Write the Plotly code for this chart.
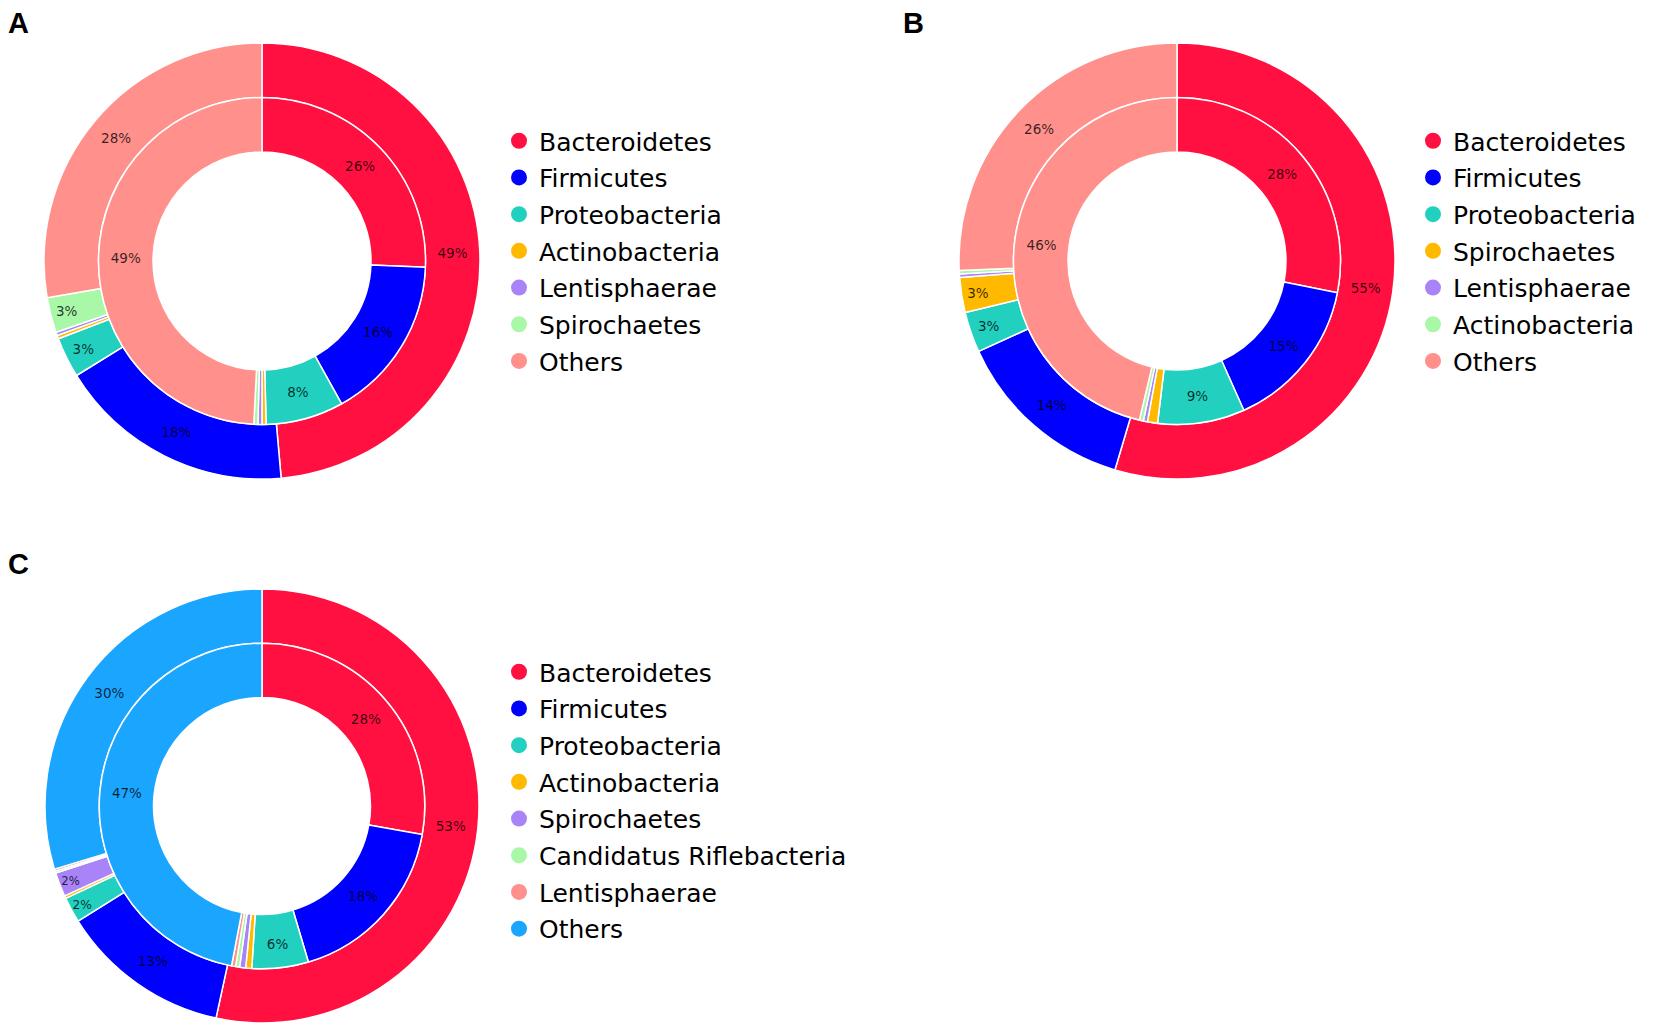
import plotly.graph_objects as go

W, H = 1654, 1036
OFF = 8  # default page body margin
FW, FH = W - 2 * OFF, H - 2 * OFF

PALETTE = ["#FF1040", "#0000FF", "#22D0C0", "#FFBA00", "#A884F8", "#A8F8A8", "#FF908C", "#1AA6FF"]

labels_A = ["Bacteroidetes", "Firmicutes", "Proteobacteria", "Actinobacteria",
            "Lentisphaerae", "Spirochaetes", "Others"]
outer_A = [48.6, 17.6, 3.0, 0.25, 0.25, 2.6, 27.7]
inner_A = [25.6, 16.3, 7.7, 0.4, 0.4, 0.4, 49.2]

labels_B = ["Bacteroidetes", "Firmicutes", "Proteobacteria", "Spirochaetes",
            "Lentisphaerae", "Actinobacteria", "Others"]
outer_B = [54.6, 13.6, 3.0, 2.6, 0.25, 0.25, 25.7]
inner_B = [28.1, 15.2, 8.6, 1.0, 0.4, 0.4, 46.3]

labels_C = ["Bacteroidetes", "Firmicutes", "Proteobacteria", "Actinobacteria",
            "Spirochaetes", "Candidatus Riflebacteria", "Lentisphaerae", "Others"]
outer_C = [53.4, 12.7, 1.9, 0.2, 1.8, 0.15, 0.15, 29.7]
inner_C = [27.8, 17.6, 5.6, 0.6, 0.6, 0.4, 0.4, 47.0]

panels = [
    # name, labels, outer, inner, center px (x, y), radius px, legend id, legend pos px
    ("A", labels_A, outer_A, inner_A, (262, 261), 218, "legend", (499, 118)),
    ("B", labels_B, outer_B, inner_B, (1177, 261), 218, "legend2", (1413, 118)),
    ("C", labels_C, outer_C, inner_C, (262, 806), 217, "legend3", (499, 649)),
]
letter_pos = {"A": (6, 23), "B": (901, 23), "C": (6, 564)}


def px2paper(x, y):
    return (x - OFF) / FW, 1 - (y - OFF) / FH


def dom(cx, cy, r):
    x0, y0 = px2paper(cx - r, cy + r)
    x1, y1 = px2paper(cx + r, cy - r)
    return dict(x=[x0, x1], y=[y0, y1])


def pct_text(vals):
    return [f"{v:.0f}%" if v >= 1.5 else "" for v in vals]


fig = go.Figure()
layout_legends = {}
for name, labels, outer, inner, (cx, cy), R, lg, (lx, ly) in panels:
    colors = PALETTE[:len(labels)]
    common = dict(
        labels=labels, sort=False, direction="clockwise", rotation=0,
        marker=dict(colors=colors, line=dict(color="white", width=1.5)),
        textinfo="text", textposition="inside", insidetextorientation="horizontal",
        insidetextfont=dict(family="DejaVu Sans", size=13.5, color="rgba(0,0,0,0.78)"),
        showlegend=False, hoverinfo="label+value",
    )
    fig.add_trace(go.Pie(values=outer, text=pct_text(outer), hole=0.75,
                         domain=dom(cx, cy, R), **common))
    fig.add_trace(go.Pie(values=inner, text=pct_text(inner), hole=0.5 / 0.75,
                         domain=dom(cx, cy, R * 0.75), **common))
    for i, (lab, col) in enumerate(zip(labels, colors)):
        fig.add_trace(go.Scatter(
            x=[None], y=[None], mode="markers", name=lab,
            marker=dict(color=col, size=16, symbol="circle"),
            legend=lg, legendgroup=f"{name}{i}", showlegend=True, hoverinfo="skip",
        ))
    lxp, lyp = px2paper(lx, ly)
    layout_legends[lg] = dict(
        x=lxp, y=lyp, xanchor="left", yanchor="top",
        font=dict(family="DejaVu Sans", size=25, color="black"),
        bgcolor="rgba(0,0,0,0)", borderwidth=0, tracegroupgap=1.2,
        itemsizing="trace", itemclick=False, itemdoubleclick=False,
    )

annotations = []
for name, (px, py) in letter_pos.items():
    ax, ay = px2paper(px, py)
    annotations.append(dict(
        text=f"<b>{name}</b>", x=ax, y=ay, xref="paper", yref="paper",
        xanchor="left", yanchor="middle", showarrow=False,
        font=dict(family="Liberation Sans", size=29, color="black"),
    ))

fig.update_layout(
    width=FW, height=FH, margin=dict(l=0, r=0, t=0, b=0),
    paper_bgcolor="white", plot_bgcolor="white",
    xaxis=dict(visible=False), yaxis=dict(visible=False),
    annotations=annotations,
    **layout_legends,
)

fig.write_html("out.html")
